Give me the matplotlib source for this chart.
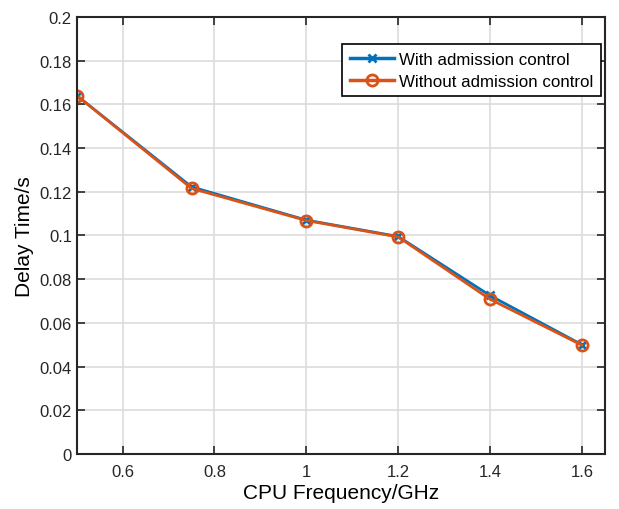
import numpy as np
import matplotlib
matplotlib.use("Agg")
import matplotlib.pyplot as plt

plt.rcParams['font.family'] = ['Liberation Sans', 'DejaVu Sans']

# CPU frequency (GHz) and measured delay (s)
freq = [0.5, 0.75, 1.0, 1.2, 1.4, 1.6]
delay_with = [0.1640, 0.1222, 0.1070, 0.0995, 0.0725, 0.0500]
delay_without = [0.1640, 0.1215, 0.1068, 0.0993, 0.0708, 0.0498]

BLUE = (0, 0.447, 0.741)
ORANGE = (0.85, 0.325, 0.098)

fig = plt.figure(figsize=(6.19, 5.10), dpi=100)
ax = fig.add_axes([0.124, 0.108, 0.853, 0.857])

ax.plot(freq, delay_with, color=BLUE, lw=2, marker='x', ms=6, mew=2,
        label='With admission control')
ax.plot(freq, delay_without, color=ORANGE, lw=2, marker='o', ms=8, mew=2,
        mfc='none', label='Without admission control')

ax.set_xlim(0.5, 1.65)
ax.set_ylim(0, 0.2)
ax.set_xticks([0.6, 0.8, 1, 1.2, 1.4, 1.6])
ax.set_xticklabels(['0.6', '0.8', '1', '1.2', '1.4', '1.6'])
ax.set_yticks(np.arange(0, 0.201, 0.02))
ax.set_yticklabels(['0', '0.02', '0.04', '0.06', '0.08', '0.1', '0.12',
                    '0.14', '0.16', '0.18', '0.2'])

ax.grid(True, color='#dcdcdc', lw=1.2)
ax.set_axisbelow(True)
ax.tick_params(direction='in', length=6, width=1.2, labelsize=12,
               top=True, right=True, colors='#262626')
ax.tick_params(axis='x', pad=7)
for s in ax.spines.values():
    s.set_linewidth(1.5)
    s.set_color('#262626')

ax.set_xlabel('CPU Frequency/GHz', fontsize=15, labelpad=3)
ax.set_ylabel('Delay Time/s', fontsize=15, labelpad=4)

leg = ax.legend(loc='upper right', bbox_to_anchor=(0.993, 0.937), fontsize=12.2,
                fancybox=False, framealpha=1, edgecolor='black',
                handlelength=2.6, borderpad=0.45, labelspacing=0.4,
                handletextpad=0.3, borderaxespad=0)
leg.get_frame().set_linewidth(1.2)
for line in leg.get_lines():
    line.set_linewidth(2.5)

fig.savefig('out.png', dpi=100)
